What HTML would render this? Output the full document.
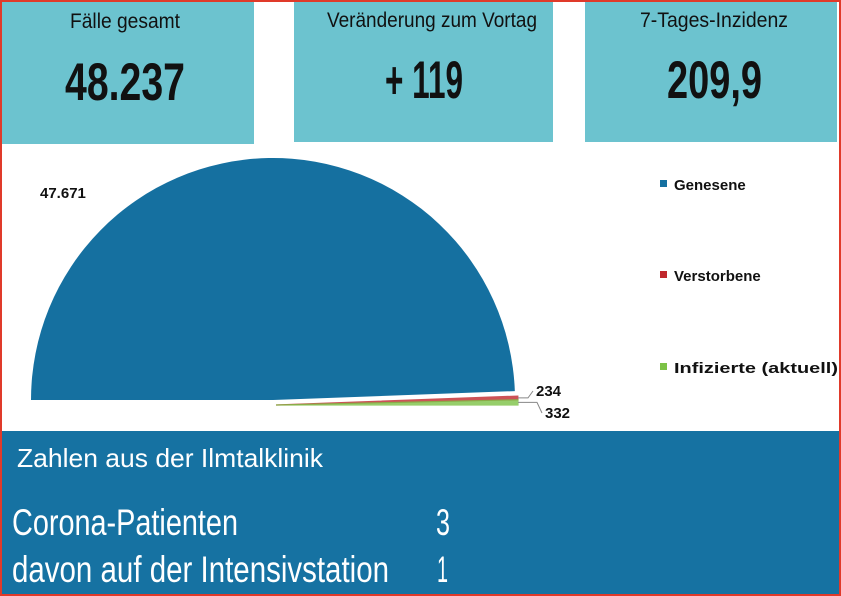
<!DOCTYPE html>
<html><head><meta charset="utf-8"><style>
html,body{margin:0;padding:0;background:#fff}
svg{display:block}
text{font-family:"Liberation Sans","DejaVu Sans",sans-serif}
</style></head><body>
<svg width="841" height="596" viewBox="0 0 841 596">
<rect x="0" y="0" width="841" height="596" fill="#fff"/>
<g>
<rect x="2" y="2" width="252" height="142" fill="#6cc3cf"/>
<text x="70" y="28" font-size="21" textLength="110" lengthAdjust="spacingAndGlyphs" fill="#111">Fälle gesamt</text>
<text x="65" y="100" font-size="53" font-weight="bold" textLength="120" lengthAdjust="spacingAndGlyphs" fill="#111">48.237</text>
</g>
<g>
<rect x="294" y="2" width="259" height="140" fill="#6cc3cf"/>
<text x="327" y="27" font-size="21" textLength="210" lengthAdjust="spacingAndGlyphs" fill="#111">Veränderung zum Vortag</text>
<text x="385" y="98" font-size="53" font-weight="bold" textLength="78" lengthAdjust="spacingAndGlyphs" fill="#111">+ 119</text>
</g>
<g>
<rect x="585" y="2" width="252" height="140" fill="#6cc3cf"/>
<text x="640" y="27" font-size="21" textLength="148" lengthAdjust="spacingAndGlyphs" fill="#111">7-Tages-Inzidenz</text>
<text x="667" y="98" font-size="53" font-weight="bold" textLength="95" lengthAdjust="spacingAndGlyphs" fill="#111">209,9</text>
</g>
<g id="pie"></g>
<g>
<g><rect x="660" y="180" width="7" height="7" fill="#1570a0"/><text x="674" y="190" font-size="15" font-weight="bold" fill="#111">Genesene</text></g>
<g><rect x="660" y="271" width="7" height="7" fill="#c0282d"/><text x="674" y="281" font-size="15" font-weight="bold" fill="#111">Verstorbene</text></g>
<g><rect x="660" y="363" width="7" height="7" fill="#7cc246"/><text x="674" y="373" font-size="15" font-weight="bold" textLength="164" lengthAdjust="spacingAndGlyphs" fill="#111">Infizierte (aktuell)</text></g>
</g>
<g>
<rect x="2" y="431" width="837" height="163" fill="#1672a2"/>
<text x="17" y="467" font-size="26" textLength="306" lengthAdjust="spacingAndGlyphs" fill="#fff">Zahlen aus der Ilmtalklinik</text>
<text x="12" y="535" font-size="37" textLength="226" lengthAdjust="spacingAndGlyphs" fill="#fff">Corona-Patienten</text>
<text x="436" y="535" font-size="37" textLength="14" lengthAdjust="spacingAndGlyphs" fill="#fff">3</text>
<text x="12" y="582" font-size="37" textLength="377" lengthAdjust="spacingAndGlyphs" fill="#fff">davon auf der Intensivstation</text>
<text x="437" y="582" font-size="37" textLength="11" lengthAdjust="spacingAndGlyphs" fill="#fff">1</text>
</g>
<rect x="1" y="1" width="839" height="594" fill="none" stroke="#e03a2a" stroke-width="2"/>
</svg>
<script>
const categories = ["Genesene", "Verstorbene", "Infizierte (aktuell)"];
const values = [47671, 234, 332];
const valueLabels = ["47.671", "234", "332"];
const colors = ["#1570a0", "#c0282d", "#7cc246"];
const NS = "http://www.w3.org/2000/svg";
const g = document.getElementById("pie");
const cx = 273, cy = 400, r = 242;
const total = values.reduce((a, b) => a + b, 0);
function angleScale(v) { return v / total * Math.PI; }
function pt(a, rr, ox, oy) { return [cx + ox - rr * Math.cos(a), cy + oy - rr * Math.sin(a)]; }
let acc = 0;
values.forEach((v, i) => {
  const a0 = angleScale(acc), a1 = angleScale(acc + v);
  acc += v;
  const oy = i === 0 ? 0 : 5, ox = i === 0 ? 0 : 3;
  const p0 = pt(a0, r, ox, oy), p1 = pt(a1, r, ox, oy);
  const large = (a1 - a0) > Math.PI ? 1 : 0;
  const path = document.createElementNS(NS, "path");
  path.setAttribute("d", `M${cx + ox},${cy + oy} L${p0[0]},${p0[1]} A${r},${r} 0 ${large} 1 ${p1[0]},${p1[1]} Z`);
  path.setAttribute("fill", colors[i]);
  if (i > 0) { path.setAttribute("stroke", colors[i]); path.setAttribute("stroke-width", "1.2"); path.setAttribute("opacity", "0.8"); }
  
  
  g.appendChild(path);
  const mid = (a0 + a1) / 2;
  const t = document.createElementNS(NS, "text");
  
  
  t.setAttribute("font-size", "15");
  t.setAttribute("font-weight", "bold");
  t.setAttribute("fill", "#111");
  t.textContent = valueLabels[i];
  if (i === 0) {
    t.setAttribute("x", 40); t.setAttribute("y", 198);
  } else {
    const e = pt(mid, r, ox, oy);
    const ly = i === 1 ? 396 : 418;
    const lx = i === 1 ? 536 : 545;
    const ln = document.createElementNS(NS, "polyline");
    ln.setAttribute("points", `${e[0]},${e[1]} ${lx - 8},${e[1]} ${lx - 3},${ly - 5}`);
    ln.setAttribute("fill", "none"); ln.setAttribute("stroke", "#888"); ln.setAttribute("stroke-width", "1");
    
    
    g.appendChild(ln);
    t.setAttribute("x", lx); t.setAttribute("y", ly);
  }
  g.appendChild(t);
});
</script>
</body></html>
